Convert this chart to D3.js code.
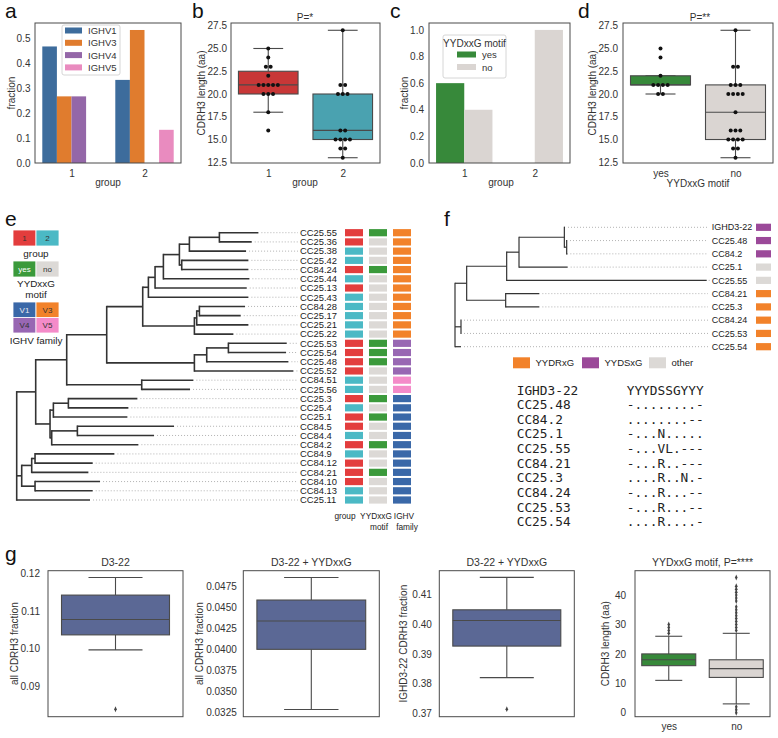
<!DOCTYPE html>
<html><head><meta charset="utf-8">
<script src="https://cdn.jsdelivr.net/npm/d3@7"></script>
<style>body{margin:0;background:#fff}svg{display:block}</style>
</head><body><script>
// ================= DATA =================
// panel a
const groupLabels = ["1", "2"];
const familyNames = ["IGHV1", "IGHV3", "IGHV4", "IGHV5"];
const fracIGHV1 = [0.467, 0.333];
const fracIGHV3 = [0.267, 0.533];
const fracIGHV4 = [0.267, 0.0];
const fracIGHV5 = [0.0, 0.133];
const ticksA = [0.0, 0.1, 0.2, 0.3, 0.4, 0.5];
// panel b
const cdrh3Group1 = [16, 18, 20, 20, 20, 21, 21, 21, 21, 21, 22, 23, 23, 24, 25];
const cdrh3Group2 = [13, 14, 14, 15, 15, 15, 15, 16, 16, 20, 20, 20, 21, 21, 27];
const ticksLen = [12.5, 15.0, 17.5, 20.0, 22.5, 25.0, 27.5];
// panel c
const motifLabels = ["yes", "no"];
const fracMotifYes = [0.6, 0.0];
const fracMotifNo = [0.4, 1.0];
const ticksC = [0.0, 0.2, 0.4, 0.6, 0.8, 1.0];
// panel d
const cdrh3MotifYes = [20, 20, 21, 21, 21, 21, 22, 24, 25];
const cdrh3MotifNo = [13, 14, 14, 15, 15, 15, 15, 16, 16, 16, 18, 20, 20, 20, 20, 21, 21, 21, 23, 23, 27];
// panel e (h = distance from root)
const treeE = {h: 0, c: [
  {h: 0.57, c: [
    {h: 1.5, c: [
      {h: 2.7, c: [
        {h: 3.78, c: [
          {h: 3.95, c: [
            {h: 4.15, c: [
              {h: 4.4, c: [
                {h: 4.88, c: [
                  {h: 5.18, c: [
                    {h: 6.08, c: [{n: "CC25.55", h: 7.25}, {n: "CC25.36", h: 7.05}]},
                    {n: "CC25.38", h: 6.88}]},
                  {h: 4.95, c: [{n: "CC25.42", h: 6.95}, {n: "CC84.24", h: 6.95}]}]},
                {n: "CC25.44", h: 6.98}]},
              {n: "CC25.13", h: 6.9}]},
            {n: "CC25.43", h: 6.95}]},
          {h: 5.33, c: [
            {h: 5.4, c: [
              {h: 5.48, c: [{n: "CC84.28", h: 6.85}, {n: "CC25.17", h: 6.72}]},
              {n: "CC25.21", h: 6.95}]},
            {n: "CC25.22", h: 6.5}]}]},
        {h: 5.33, c: [
          {h: 5.7, c: [
            {h: 6.35, c: [{n: "CC25.53", h: 8.1}, {n: "CC25.54", h: 8.08}]},
            {n: "CC25.48", h: 8.15}]},
          {n: "CC25.52", h: 8.3}]}]},
      {h: 3.75, c: [{n: "CC84.51", h: 5.3}, {n: "CC25.56", h: 5.2}]}]},
    {h: 1.0, c: [
      {h: 1.1, c: [
        {h: 1.55, c: [{n: "CC25.3", h: 3.62}, {n: "CC25.4", h: 3.35}]},
        {n: "CC25.1", h: 3.32}]},
      {h: 1.05, c: [
        {h: 1.82, c: [{n: "CC84.5", h: 4.72}, {n: "CC84.4", h: 4.12}]},
        {n: "CC84.2", h: 3.65}]}]}]},
  {h: 0.15, c: [
    {h: 0.45, c: [
      {h: 0.55, c: [{n: "CC84.9", h: 2.93}, {n: "CC84.12", h: 2.28}]},
      {n: "CC84.21", h: 2.15}]},
    {h: 0.55, c: [{n: "CC84.10", h: 2.5}, {n: "CC84.13", h: 2.28}]}]},
  {n: "CC25.11", h: 2.2}]};
const leavesE = ["CC25.55","CC25.36","CC25.38","CC25.42","CC84.24","CC25.44","CC25.13","CC25.43","CC84.28","CC25.17","CC25.21","CC25.22","CC25.53","CC25.54","CC25.48","CC25.52","CC84.51","CC25.56","CC25.3","CC25.4","CC25.1","CC84.5","CC84.4","CC84.2","CC84.9","CC84.12","CC84.21","CC84.10","CC84.13","CC25.11"];
const groupE  = [1,1,2,2,1,2,1,2,2,2,2,2,1,1,1,1,2,2,1,2,1,1,2,1,2,1,1,1,2,2];
const motifE  = ["yes","no","no","no","yes","no","no","no","no","no","no","no","yes","yes","yes","no","no","no","yes","no","yes","no","no","yes","no","no","yes","no","no","no"];
const familyE = ["V3","V3","V3","V3","V3","V3","V3","V3","V3","V3","V3","V3","V4","V4","V4","V4","V5","V5","V1","V1","V1","V1","V1","V1","V1","V1","V1","V1","V1","V1"];
const columnHeadersE = [["group"], ["YYDxxG", "motif"], ["IGHV", "family"]];
// panel f
const treeF = {h: 0, c: [
  {h: 0.35, c: [
    {h: 1.55, c: [
      {h: 1.92, c: [
        {h: 3.28, c: [{n: "IGHD3-22", h: 3.3}, {h: 3.35, c: [{n: "CC25.48", h: 3.36}, {n: "CC84.2", h: 3.37}]}]},
        {n: "CC25.1", h: 3.38}]},
      {n: "CC25.55", h: 7.55}]},
    {h: 1.52, c: [{n: "CC84.21", h: 2.53}, {n: "CC25.3", h: 2.53}]}]},
  {h: 0.18, c: [{n: "CC84.24", h: 0.18}, {n: "CC25.53", h: 0.18}]},
  {n: "CC25.54", h: 0.18}]};
const leavesF = ["IGHD3-22","CC25.48","CC84.2","CC25.1","CC25.55","CC84.21","CC25.3","CC84.24","CC25.53","CC25.54"];
const motifClassF = ["YYDSxG","YYDSxG","YYDSxG","other","other","YYDRxG","YYDRxG","YYDRxG","YYDRxG","YYDRxG"];
const motifClassesF = ["YYDRxG", "YYDSxG", "other"];
const alignNames = ["IGHD3-22","CC25.48","CC84.2","CC25.1","CC25.55","CC84.21","CC25.3","CC84.24","CC25.53","CC25.54"];
const alignSeqs  = ["YYYDSSGYYY","-........-","........--","-...N.....","-...VL.---","-...R..---","....R..N.-","-...R...--","-...R...--","....R....-"];
// panel g (box statistics)
const gTitles = ["D3-22", "D3-22 + YYDxxG", "D3-22 + YYDxxG"];
const gYLabels = ["all CDRH3 fraction", "all CDRH3 fraction", "IGHD3-22 CDRH3 fraction"];
const gWhiskerLow  = [0.0996, 0.0328, 0.3820];
const gQ1          = [0.1036, 0.0400, 0.3926];
const gMedian      = [0.1077, 0.0434, 0.4012];
const gQ3          = [0.1142, 0.0459, 0.4048];
const gWhiskerHigh = [0.1189, 0.0486, 0.4157];
const gOutliers    = [[0.0838], [], [0.3714]];
const gTicks = [[0.09, 0.10, 0.11, 0.12],
                [0.0325, 0.0350, 0.0375, 0.0400, 0.0425, 0.0450, 0.0475],
                [0.37, 0.38, 0.39, 0.40, 0.41]];
const gTickFormats = [".2f", ".4f", ".2f"];
const gYDomains = [[0.0818, 0.1207], [0.03194, 0.04941], [0.36886, 0.41795]];
const lenTitle = "YYDxxG motif, P=****";
const lenWhiskerLow  = [11, 3];
const lenQ1          = [16, 12];
const lenMedian      = [18, 15];
const lenQ3          = [20, 18];
const lenWhiskerHigh = [26, 27];
const lenOutliersYes = [27, 28, 29, 30];
const lenOutliersNo  = [0, 1, 2, 28, 29, 30, 31, 32, 33, 34, 35, 36, 38, 39, 40, 41, 42, 43, 46];
const lenTicks = [0, 10, 20, 30, 40];

// ================= DRAWING =================
const FONT = "'Liberation Sans', Arial, Helvetica, sans-serif";
const MONO = "'DejaVu Sans Mono', 'Liberation Mono', monospace";
const TXT = "#333";
const EDGE = "#4a4a4a";
const svg = d3.select("body").append("svg").attr("width", 778).attr("height", 738);
svg.append("rect").attr("width", 778).attr("height", 738).attr("fill", "#fff");

function txt(x, y, s, o = {}) {
  const t = svg.append("text").attr("x", x).attr("y", y).text(s)
    .attr("font-family", o.ff || FONT).attr("font-size", o.fs || 10)
    .attr("fill", o.fill || TXT).attr("text-anchor", o.anchor || "start");
  if (o.rot) t.attr("transform", `rotate(-90,${x},${y})`);
  if (o.dy) t.attr("dy", o.dy);
  return t;
}
function frame(x0, y0, x1, y1) {
  svg.append("rect").attr("x", x0).attr("y", y0).attr("width", x1 - x0).attr("height", y1 - y0)
    .attr("fill", "none").attr("stroke", EDGE).attr("stroke-width", 1);
}
function leftAxis(scale, x, ticks, fmt, pad = 5, fs = 10) {
  const g = svg.append("g").attr("transform", `translate(${x},0)`)
    .call(d3.axisLeft(scale).tickValues(ticks).tickFormat(d3.format(fmt)).tickSize(0).tickPadding(pad));
  g.select(".domain").remove();
  g.selectAll("text").attr("font-family", FONT).attr("font-size", fs).attr("fill", TXT);
}
function bottomAxis(scale, y, ticks, labels, pad = 6.5) {
  const g = svg.append("g").attr("transform", `translate(0,${y})`)
    .call(d3.axisBottom(scale).tickValues(ticks).tickFormat((d, i) => labels[i]).tickSize(0).tickPadding(pad));
  g.select(".domain").remove();
  g.selectAll("text").attr("font-family", FONT).attr("font-size", 10).attr("fill", TXT);
}
function line(x1, y1, x2, y2, col = EDGE, w = 1.1) {
  svg.append("line").attr("x1", x1).attr("y1", y1).attr("x2", x2).attr("y2", y2)
    .attr("stroke", col).attr("stroke-width", w);
}
function stats(vals) {
  const s = vals.slice().sort(d3.ascending);
  const q1 = d3.quantile(s, 0.25), med = d3.quantile(s, 0.5), q3 = d3.quantile(s, 0.75);
  const iqr = q3 - q1;
  return {q1, med, q3, lo: d3.min(s.filter(v => v >= q1 - 1.5 * iqr)), hi: d3.max(s.filter(v => v <= q3 + 1.5 * iqr))};
}
function drawBox(cx, halfW, st, y, fill) {
  line(cx, y(st.q3), cx, y(st.hi)); line(cx, y(st.q1), cx, y(st.lo));
  line(cx - halfW / 2, y(st.hi), cx + halfW / 2, y(st.hi));
  line(cx - halfW / 2, y(st.lo), cx + halfW / 2, y(st.lo));
  svg.append("rect").attr("x", cx - halfW).attr("y", y(st.q3)).attr("width", 2 * halfW)
    .attr("height", Math.max(0, y(st.q1) - y(st.q3))).attr("fill", fill).attr("stroke", EDGE).attr("stroke-width", 1.1);
  line(cx - halfW, y(st.med), cx + halfW, y(st.med));
}
function swarm(cx, vals, y, sp = 4.8) {
  const counts = d3.rollup(vals, v => v.length, d => d);
  counts.forEach((k, v) => {
    for (let j = 0; j < k; j++)
      svg.append("circle").attr("cx", cx + (j - (k - 1) / 2) * sp).attr("cy", y(v)).attr("r", 2).attr("fill", "#111");
  });
}
function panelLetter(x, y, s) { txt(x, y, s, {fs: 21, fill: "#111"}); }

// ---------- panel a ----------
{
  const X0 = 35, X1 = 181, Y0 = 23, Y1 = 163;
  const x = d3.scaleLinear().domain([-0.5, 1.5]).range([X0, X1]);
  const y = d3.scaleLinear().domain([0, 0.561]).range([Y1, Y0]);
  const cols = ["#3d6c9c", "#e07c2e", "#9467a8", "#e98bbf"];
  const series = [fracIGHV1, fracIGHV3, fracIGHV4, fracIGHV5];
  const bw = x(0.2) - x(0);
  series.forEach((vals, k) => vals.forEach((v, i) => {
    svg.append("rect").attr("x", x(i - 0.4 + 0.2 * k)).attr("y", y(v)).attr("width", bw)
      .attr("height", y(0) - y(v)).attr("fill", cols[k]);
  }));
  frame(X0, Y0, X1, Y1);
  leftAxis(y, X0, ticksA, ".1f", 4.5);
  bottomAxis(x, Y1, [0, 1], groupLabels);
  txt(11, 93, "fraction", {rot: true, anchor: "middle", dy: "0.35em"});
  txt(108, 185.5, "group", {anchor: "middle"});
  svg.append("rect").attr("x", 62).attr("y", 25).attr("width", 58).attr("height", 50).attr("rx", 2)
    .attr("fill", "#fff").attr("stroke", "#ccc").attr("stroke-width", 0.8);
  familyNames.forEach((f, k) => {
    const ry = 30.5 + k * 12.3;
    svg.append("rect").attr("x", 65).attr("y", ry - 3).attr("width", 17).attr("height", 6).attr("fill", cols[k]);
    txt(88, ry + 3.5, f, {fs: 9.5});
  });
  panelLetter(5, 18, "a");
}
// ---------- panel b ----------
{
  const X0 = 231, X1 = 380, Y0 = 23, Y1 = 163;
  const x = d3.scaleLinear().domain([-0.5, 1.5]).range([X0, X1]);
  const y = d3.scaleLinear().domain([12.42, 27.8]).range([Y1, Y0]);
  const hw = (x(0.4) - x(0));
  drawBox(x(0), hw, stats(cdrh3Group1), y, "#c83737");
  drawBox(x(1), hw, stats(cdrh3Group2), y, "#4aa2b0");
  swarm(x(0), cdrh3Group1, y); swarm(x(1), cdrh3Group2, y);
  frame(X0, Y0, X1, Y1);
  leftAxis(y, X0, ticksLen, ".1f", 4);
  bottomAxis(x, Y1, [0, 1], groupLabels);
  txt(201.5, 93, "CDRH3 length (aa)", {rot: true, anchor: "middle", dy: "0.35em"});
  txt(305, 185.5, "group", {anchor: "middle"});
  txt(305, 20.5, "P=*", {anchor: "middle"});
  panelLetter(192, 18, "b");
}
// ---------- panel c ----------
{
  const X0 = 429, X1 = 570, Y0 = 23, Y1 = 163;
  const x = d3.scaleLinear().domain([-0.5, 1.5]).range([X0, X1]);
  const y = d3.scaleLinear().domain([0, 1.052]).range([Y1, Y0]);
  const cols = ["#37893a", "#dad5d2"];
  const bw = x(0.4) - x(0);
  [fracMotifYes, fracMotifNo].forEach((vals, k) => vals.forEach((v, i) => {
    svg.append("rect").attr("x", x(i - 0.4 + 0.4 * k)).attr("y", y(v)).attr("width", bw)
      .attr("height", y(0) - y(v)).attr("fill", cols[k]);
  }));
  frame(X0, Y0, X1, Y1);
  leftAxis(y, X0, ticksC, ".1f", 5);
  bottomAxis(x, Y1, [0, 1], groupLabels);
  txt(404, 93, "fraction", {rot: true, anchor: "middle", dy: "0.35em"});
  txt(501, 185.5, "group", {anchor: "middle"});
  svg.append("rect").attr("x", 443).attr("y", 35).attr("width", 63).attr("height", 43).attr("rx", 2)
    .attr("fill", "#fff").attr("stroke", "#ccc").attr("stroke-width", 0.8);
  txt(474.5, 46.5, "YYDxxG motif", {anchor: "middle", fs: 10});
  motifLabels.forEach((m, k) => {
    const ry = 54.5 + k * 12.5;
    svg.append("rect").attr("x", 457).attr("y", ry - 3).attr("width", 19).attr("height", 6).attr("fill", cols[k]);
    txt(482, ry + 3.5, m, {fs: 9.5});
  });
  panelLetter(390, 18, "c");
}
// ---------- panel d ----------
{
  const X0 = 623, X1 = 773, Y0 = 23, Y1 = 163;
  const x = d3.scaleLinear().domain([-0.5, 1.5]).range([X0, X1]);
  const y = d3.scaleLinear().domain([12.42, 27.8]).range([Y1, Y0]);
  const hw = (x(0.4) - x(0));
  drawBox(x(0), hw, stats(cdrh3MotifYes), y, "#37893a");
  drawBox(x(1), hw, stats(cdrh3MotifNo), y, "#dad5d2");
  swarm(x(0), cdrh3MotifYes, y); swarm(x(1), cdrh3MotifNo, y);
  frame(X0, Y0, X1, Y1);
  leftAxis(y, X0, ticksLen, ".1f", 5);
  bottomAxis(x, Y1, [0, 1], motifLabels);
  txt(592, 93, "CDRH3 length (aa)", {rot: true, anchor: "middle", dy: "0.35em"});
  txt(698, 187, "YYDxxG motif", {anchor: "middle"});
  txt(700, 20.5, "P=**", {anchor: "middle"});
  panelLetter(578, 18, "d");
}
// ---------- tree helper ----------
function drawTree(data, xs, ys, dotEnd, lw) {
  const root = d3.hierarchy(data, d => d.c);
  let i = 0;
  root.eachAfter(n => {
    n.px = xs(n.data.h);
    if (!n.children) n.py = ys(i++);
    else n.py = (n.children[0].py + n.children[n.children.length - 1].py) / 2;
  });
  const g = svg.append("g").attr("fill", "none");
  root.leaves().forEach(l => {
    g.append("line").attr("x1", l.px + 3).attr("x2", dotEnd).attr("y1", l.py).attr("y2", l.py)
      .attr("stroke", "#aaa").attr("stroke-width", 0.9).attr("stroke-dasharray", "1 2");
  });
  root.each(n => {
    if (!n.children) return;
    const a = n.children[0].py, b = n.children[n.children.length - 1].py;
    g.append("line").attr("x1", n.px).attr("x2", n.px).attr("y1", a).attr("y2", b)
      .attr("stroke", "#333").attr("stroke-width", lw).attr("stroke-linecap", "square");
    n.children.forEach(c => g.append("line").attr("x1", n.px).attr("x2", c.px).attr("y1", c.py).attr("y2", c.py)
      .attr("stroke", "#333").attr("stroke-width", lw));
  });
  return root;
}
// ---------- panel e ----------
{
  const xs = d3.scaleLinear().domain([0, 8.3]).range([16.7, 293.4]);
  const ys = d3.scaleLinear().domain([0, leavesE.length - 1]).range([232.7, 500]);
  drawTree(treeE, xs, ys, 298, 1.6);
  const gCol = {1: "#e33d3d", 2: "#4bb9c5"};
  const mCol = {yes: "#3b9a3b", no: "#dcd9d6"};
  const fCol = {V1: "#3a68a8", V3: "#f2822a", V4: "#9867b3", V5: "#f48bc9"};
  leavesE.forEach((n, i) => {
    const yy = ys(i);
    txt(300, yy, n, {fs: 9.4, dy: "0.35em", fill: "#222"});
    [gCol[groupE[i]], mCol[motifE[i]], fCol[familyE[i]]].forEach((c, k) => {
      svg.append("rect").attr("x", 345 + 24 * k).attr("y", yy - 3.6).attr("width", 18).attr("height", 7.2).attr("fill", c);
    });
  });
  const hdrX = [[345], [376, 379], [404, 407]];
  columnHeadersE.forEach((h, k) => h.forEach((s, j) => txt(hdrX[k][j], 519 + j * 10.5, s, {fs: 8.3, anchor: "middle", fill: "#222"})));
  // legend
  function cell(x, y, w, h, fill, label, tc) {
    svg.append("rect").attr("x", x).attr("y", y).attr("width", w).attr("height", h).attr("fill", fill)
      .attr("stroke", "#fff").attr("stroke-width", 0.8);
    txt(x + w / 2, y + h / 2, label, {fs: 8, anchor: "middle", dy: "0.35em", fill: tc});
  }
  cell(13, 230, 23, 16, gCol[1], groupLabels[0], "#333");
  cell(36, 230, 23, 16, gCol[2], groupLabels[1], "#333");
  txt(36, 256.5, "group", {anchor: "middle", fs: 9.9, fill: "#222"});
  cell(13, 261, 23, 16, mCol.yes, motifLabels[0], "#fff");
  cell(36, 261, 23, 16, mCol.no, motifLabels[1], "#333");
  txt(36, 286.8, "YYDxxG", {anchor: "middle", fs: 9.9, fill: "#222"});
  txt(36, 297.5, "motif", {anchor: "middle", fs: 9.9, fill: "#222"});
  cell(13, 302, 23, 15.5, fCol.V1, "V1", "#e8e8f0");
  cell(36, 302, 23, 15.5, fCol.V3, "V3", "#333");
  cell(13, 317.5, 23, 15.5, fCol.V4, "V4", "#333");
  cell(36, 317.5, 23, 15.5, fCol.V5, "V5", "#333");
  txt(36, 344, "IGHV family", {anchor: "middle", fs: 9.9, fill: "#222"});
  panelLetter(5, 226, "e");
}
// ---------- panel f ----------
{
  const xs = d3.scaleLinear().domain([0, 7.55]).range([455, 706.7]);
  const ys = d3.scaleLinear().domain([0, leavesF.length - 1]).range([227.3, 346.7]);
  drawTree(treeF, xs, ys, 708, 1.2);
  const cCol = {YYDRxG: "#f2822a", YYDSxG: "#9b4999", other: "#dcd9d6"};
  leavesF.forEach((n, i) => {
    const yy = ys(i);
    txt(711.7, yy, n, {fs: 9, dy: "0.35em", fill: "#222"});
    svg.append("rect").attr("x", 756).attr("y", yy - 3.6).attr("width", 15).attr("height", 7.2).attr("fill", cCol[motifClassF[i]]);
  });
  const legX = [513, 582, 649];
  motifClassesF.forEach((c, k) => {
    svg.append("rect").attr("x", legX[k]).attr("y", 357.3).attr("width", 17).attr("height", 11).attr("fill", cCol[c]);
    txt(legX[k] + 22.5, 362.8, c, {fs: 9.5, dy: "0.35em", fill: "#222"});
  });
  alignNames.forEach((n, i) => {
    const yy = 390 + i * 14.63;
    txt(516.7, yy, n, {ff: MONO, fs: 12.8, dy: "0.36em", fill: "#222"});
    txt(626.7, yy, alignSeqs[i], {ff: MONO, fs: 12.8, dy: "0.36em", fill: "#222"});
  });
  panelLetter(444, 226, "f");
}
// ---------- panel g ----------
{
  const Y0 = 570.7, Y1 = 716.7;
  const boxes = [[48, 183], [243.3, 379.3], [439.3, 574.3]];
  const pads = [8, 6.5, 7.5];
  const ylabX = [14.5, 200, 404];
  boxes.forEach(([X0, X1], k) => {
    const y = d3.scaleLinear().domain(gYDomains[k]).range([Y1, Y0]);
    const cx = (X0 + X1) / 2, hw = (X1 - X0) * 0.4;
    drawBox(cx, hw, {q1: gQ1[k], med: gMedian[k], q3: gQ3[k], lo: gWhiskerLow[k], hi: gWhiskerHigh[k]}, y, "#5b6895");
    gOutliers[k].forEach(v => svg.append("path").attr("d", d3.symbol(d3.symbolDiamond, 10)())
      .attr("transform", `translate(${cx},${y(v)}) scale(0.75,1)`).attr("fill", "#444"));
    frame(X0, Y0, X1, Y1);
    leftAxis(y, X0, gTicks[k], gTickFormats[k], pads[k]);
    txt(ylabX[k], (Y0 + Y1) / 2, gYLabels[k], {rot: true, anchor: "middle", dy: "0.35em"});
    txt(cx, 566.3, gTitles[k], {anchor: "middle", fs: 10.5});
  });
  // length boxplot
  const X0 = 635, X1 = 770;
  const x = d3.scaleLinear().domain([-0.5, 1.5]).range([X0, X1]);
  const y = d3.scaleLinear().domain([-1.36, 48.3]).range([Y1, Y0]);
  const hw = x(0.4) - x(0);
  const fills = ["#37893a", "#dad5d2"];
  [lenOutliersYes, lenOutliersNo].forEach((outs, i) => {
    drawBox(x(i), hw, {q1: lenQ1[i], med: lenMedian[i], q3: lenQ3[i], lo: lenWhiskerLow[i], hi: lenWhiskerHigh[i]}, y, fills[i]);
    outs.forEach(v => svg.append("path").attr("d", d3.symbol(d3.symbolDiamond, 10)())
      .attr("transform", `translate(${x(i)},${y(v)}) scale(0.75,1)`).attr("fill", "#444"));
  });
  frame(X0, Y0, X1, Y1);
  leftAxis(y, X0, lenTicks, "d", 9);
  bottomAxis(x, Y1, [0, 1], motifLabels, 6.5);
  txt(606, (Y0 + Y1) / 2, "CDRH3 length (aa)", {rot: true, anchor: "middle", dy: "0.35em"});
  txt((X0 + X1) / 2, 566.3, lenTitle, {anchor: "middle", fs: 10.5});
  panelLetter(5, 561, "g");
}
</script></body></html>
